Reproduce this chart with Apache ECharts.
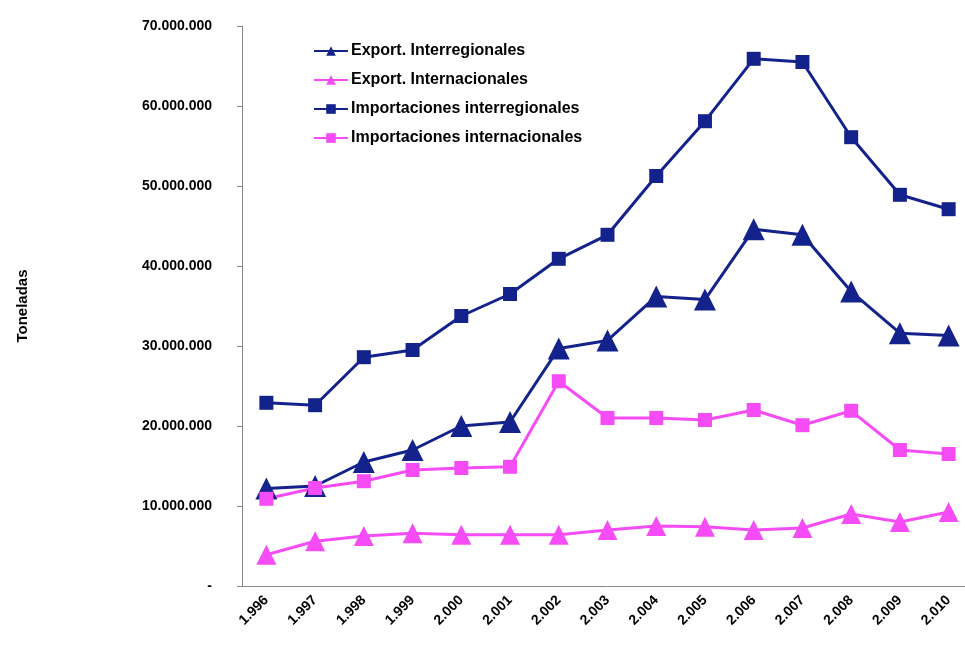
<!DOCTYPE html>
<html><head><meta charset="utf-8">
<script src="https://cdn.jsdelivr.net/npm/echarts@6/dist/echarts.min.js"></script>
<style>html,body{margin:0;background:#fff;overflow:hidden}#c{width:980px;height:659px}</style>
</head><body><div id="c"></div>
<script>
// years and tonnage series (millions of tons)
const years = ["1.996","1.997","1.998","1.999","2.000","2.001","2.002","2.003","2.004","2.005","2.006","2.007","2.008","2.009","2.010"];
const exportInter = [12.2, 12.5, 15.5, 17.0, 20.0, 20.5, 29.7, 30.7, 36.2, 35.8, 44.6, 43.9, 36.8, 31.6, 31.3];
const exportIntl = [3.9, 5.6, 6.25, 6.6, 6.4, 6.4, 6.4, 7.0, 7.5, 7.4, 7.0, 7.25, 9.0, 8.0, 9.25];
const importInter = [22.9, 22.6, 28.6, 29.5, 33.75, 36.5, 40.9, 43.9, 51.25, 58.1, 65.9, 65.5, 56.1, 48.9, 47.1];
const importIntl = [10.9, 12.25, 13.1, 14.5, 14.75, 14.9, 25.6, 21.0, 21.0, 20.75, 22.0, 20.1, 21.9, 17.0, 16.5];

const NAVY = "#14228c", PINK = "#f54cf5";
const fmt = v => v === 0 ? "-" : (v * 1e6).toString().replace(/\B(?=(\d{3})+(?!\d))/g, ".");
const mk = (name, data, color, symbol, size) => ({
  name, type: "line", data, symbol, symbolSize: size,
  lineStyle: { color, width: 3 }, itemStyle: { color }
});

const chart = echarts.init(document.getElementById("c"));
chart.setOption({
  animation: false,
  textStyle: { fontFamily: "Liberation Sans, Arial", fontWeight: "bold" },
  legend: {
    orient: "vertical", left: 308, top: 38, itemGap: 13, itemWidth: 34, itemHeight: 12,
    textStyle: { fontSize: 16, fontWeight: "bold", color: "#000", padding: [0, 0, 0, -2] },
    data: ["Export. Interregionales", "Export. Internacionales", "Importaciones interregionales", "Importaciones internacionales"]
  },
  grid: { left: 242, top: 26, right: 7, bottom: 73 },
  xAxis: {
    type: "category", data: years, boundaryGap: true,
    axisLine: { lineStyle: { color: "#888" } },
    axisTick: { lineStyle: { color: "#888" } },
    axisLabel: { rotate: 45, color: "#000", fontSize: 14, fontWeight: "bold", margin: 12 }
  },
  yAxis: {
    type: "value", min: 0, max: 70, interval: 10,
    name: "Toneladas", nameLocation: "middle", nameGap: 212, nameRotate: 90,
    nameTextStyle: { fontSize: 15, fontWeight: "bold", color: "#000" },
    splitLine: { show: false },
    axisLine: { show: true, lineStyle: { color: "#888" } },
    axisTick: { show: true, lineStyle: { color: "#888" } },
    axisLabel: { formatter: fmt, color: "#000", fontSize: 14, fontWeight: "bold", margin: 30 }
  },
  series: [
    mk("Export. Interregionales", exportInter, NAVY, "triangle", 22),
    mk("Export. Internacionales", exportIntl, PINK, "triangle", 20),
    mk("Importaciones interregionales", importInter, NAVY, "rect", 14),
    mk("Importaciones internacionales", importIntl, PINK, "rect", 14)
  ]
});
</script></body></html>
